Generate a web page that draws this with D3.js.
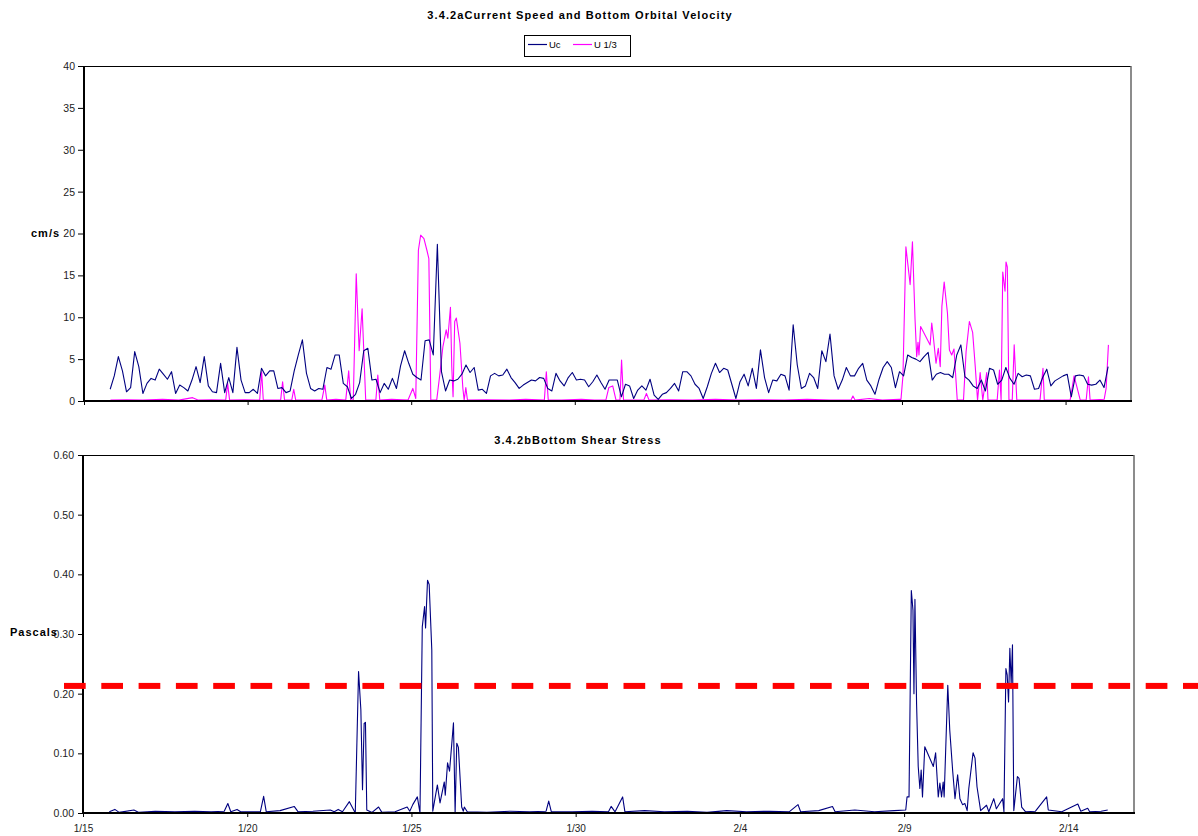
<!DOCTYPE html>
<html><head><meta charset="utf-8">
<script src="https://cdn.jsdelivr.net/npm/d3@7/dist/d3.min.js"></script>
<style>
body{margin:0;background:#fff}
svg{display:block}
text{font-family:Arial,"Liberation Sans",sans-serif}
</style>
</head><body>
<svg id="chart" width="1198" height="836"></svg>
<script>
// ---------------- DATA ----------------
const startDate = [2003, 0, 15];   // 1/15
const endDate = [2003, 1, 16];     // 2/16
const xTickLabels = ["1/15", "1/20", "1/25", "1/30", "2/4", "2/9", "2/14"];
const topYTicks = [0, 5, 10, 15, 20, 25, 30, 35, 40];
const bottomYTicks = [0, 0.1, 0.2, 0.3, 0.4, 0.5, 0.6];
const seriesNames = ["Uc", "U 1/3"];
const topTitle = "3.4.2aCurrent Speed and Bottom Orbital Velocity";
const bottomTitle = "3.4.2bBottom Shear Stress";
const shearThreshold = 0.213;

// Uc: current speed (cm/s), 3-hourly from day 0.8 after 1/15
const ucStartDay = 0.8;
const ucStepDays = 0.125;
const ucValues = [
  1.4, 3.0, 5.3, 3.6, 1.1, 1.6, 5.9, 4.1, 0.9, 2.1,
  2.7, 2.5, 3.8, 3.2, 2.6, 3.5, 0.9, 1.9, 1.6, 1.2,
  2.5, 4.1, 2.2, 5.3, 1.8, 1.1, 1.0, 4.5, 1.0, 2.8,
  1.0, 6.4, 2.5, 1.0, 1.0, 1.4, 0.9, 3.9, 3.0, 3.6,
  3.6, 1.5, 1.6, 1.0, 1.2, 3.6, 5.5, 7.3, 3.3, 1.5,
  1.2, 1.5, 1.4, 4.0, 3.8, 5.5, 5.5, 2.1, 1.7, 0.3,
  0.8, 2.2, 6.0, 6.3, 2.5, 2.6, 1.0, 2.1, 1.4, 2.7,
  1.5, 4.2, 6.0, 4.5, 3.2, 2.8, 2.5, 7.2, 7.3, 5.5,
  18.7, 3.5, 1.2, 2.5, 2.4, 2.6, 3.2, 4.3, 3.4, 4.0,
  1.3, 1.4, 0.9, 3.0, 3.3, 3.0, 3.1, 3.8, 2.8, 2.2,
  1.5, 1.9, 2.2, 2.5, 2.4, 2.8, 2.7, 1.5, 1.2, 3.3,
  2.4, 1.8, 2.8, 3.4, 2.5, 2.6, 2.5, 1.7, 2.3, 3.1,
  2.2, 1.4, 2.5, 2.5, 2.5, 0.5, 2.0, 1.8, 0.3, 1.3,
  1.8, 1.3, 2.6, 0.7, 0.2, 0.8, 1.0, 1.5, 2.1, 1.2,
  3.5, 3.5, 3.0, 2.0, 1.5, 0.3, 1.7, 3.3, 4.5, 3.4,
  3.9, 3.7, 2.0, 0.3, 2.3, 3.2, 1.8, 3.9, 1.5, 6.1,
  2.8, 1.0, 2.5, 2.4, 3.2, 3.0, 1.3, 9.1, 4.3, 1.5,
  1.8, 3.3, 2.8, 1.5, 6.0, 4.7, 8.0, 3.0, 1.4, 2.5,
  4.0, 3.0, 3.0, 3.9, 4.5, 2.5, 1.8, 0.8, 2.6, 4.0,
  4.7, 4.0, 1.6, 3.5, 3.0, 5.5, 5.2, 5.0, 4.7, 5.3,
  5.8, 2.5, 3.2, 3.4, 3.2, 3.2, 2.8, 5.5, 6.7, 2.9,
  2.5, 1.8, 1.5, 2.5, 1.2, 3.9, 3.7, 2.0, 2.5, 4.0,
  2.7, 2.0, 3.3, 2.9, 3.1, 3.0, 1.4, 1.5, 2.8, 3.8,
  1.8, 2.4, 2.7, 3.0, 3.2, 0.5, 3.0, 3.1, 3.0, 2.0,
  1.9, 2.0, 2.5, 1.6, 4.1
];

// U 1/3: bottom orbital velocity (cm/s) as [day after 1/15, value]
const u13Points = [
  [0.81,0.1],[1.3,0.15],[1.8,0.1],[2.4,0.2],[2.9,0.1],[3.32,0.4],[3.5,0.1],[3.9,0.15],
  [4.33,0.1],[4.39,2.1],[4.45,0.1],[4.9,0.15],[5.37,0.1],[5.43,3.5],[5.48,0.1],[5.8,0.1],
  [6.01,0.1],[6.07,2.3],[6.13,0.1],[6.35,0.1],[6.41,1.4],[6.47,0.1],[6.9,0.1],[7.27,0.1],
  [7.36,1.9],[7.42,0.1],[7.7,0.2],[8.0,0.1],[8.09,3.6],[8.15,0.1],[8.23,0.1],[8.32,15.2],
  [8.41,6.0],[8.5,11.0],[8.61,0.1],[8.92,0.1],[8.98,3.1],[9.04,0.1],[9.4,0.2],[9.9,0.1],
  [10.05,1.5],[10.14,0.3],[10.22,18.0],[10.29,19.8],[10.39,19.4],[10.48,18.0],[10.54,17.0],
  [10.6,0.1],[10.78,0.1],[10.87,3.0],[10.97,6.5],[11.07,8.5],[11.12,7.5],[11.2,11.2],
  [11.24,4.1],[11.28,0.5],[11.33,9.5],[11.38,9.9],[11.49,6.9],[11.58,1.5],[11.62,0.1],
  [11.67,1.6],[11.72,0.1],[12.3,0.15],[13.0,0.1],[13.5,0.2],[14.07,0.1],[14.13,3.5],
  [14.19,0.1],[14.6,0.1],[15.2,0.2],[15.6,0.1],[15.95,0.1],[16.04,1.6],[16.16,1.8],
  [16.26,0.1],[16.38,0.1],[16.43,4.9],[16.49,0.1],[16.8,0.1],[17.11,0.1],[17.19,0.9],
  [17.27,0.1],[17.9,0.15],[18.6,0.1],[19.3,0.2],[20.0,0.1],[20.7,0.15],[21.4,0.1],
  [22.1,0.2],[22.8,0.1],[23.44,0.1],[23.5,0.6],[23.57,0.1],[24.0,0.3],[24.4,0.1],
  [24.91,0.2],[24.97,0.2],[25.03,3.0],[25.12,18.4],[25.25,13.9],[25.32,19.0],[25.4,9.7],
  [25.45,5.3],[25.49,7.0],[25.52,5.5],[25.57,8.9],[25.86,6.7],[25.91,9.3],[25.95,8.0],
  [26.04,4.5],[26.11,6.3],[26.17,4.1],[26.22,11.3],[26.29,14.2],[26.39,10.5],[26.45,6.1],
  [26.52,5.5],[26.59,6.2],[26.69,0.1],[26.88,0.1],[26.96,5.9],[27.06,9.5],[27.16,8.2],
  [27.24,4.1],[27.31,0.1],[27.39,3.4],[27.47,0.1],[27.59,3.4],[27.63,0.1],[27.91,0.1],
  [27.98,3.7],[28.03,0.1],[28.08,15.4],[28.15,13.1],[28.18,16.6],[28.22,16.0],[28.27,0.1],
  [28.37,0.1],[28.43,6.7],[28.51,0.1],[29.22,0.1],[29.31,3.9],[29.35,0.1],[30.14,0.1],
  [30.26,3.0],[30.45,0.1],[30.63,0.1],[30.7,2.9],[30.75,0.1],[31.18,0.2],[31.24,1.5],
  [31.31,6.7]
];

// Bottom shear stress (Pa) as [day after 1/15, value]
const shearPoints = [
  [0.8,0.002],[0.97,0.006],[1.1,0.001],[1.55,0.005],[1.7,0.001],[2.2,0.003],[2.8,0.002],
  [3.4,0.003],[3.9,0.002],[4.3,0.003],[4.41,0.016],[4.5,0.002],[4.69,0.006],[4.8,0.002],
  [5.4,0.002],[5.5,0.028],[5.58,0.002],[6.0,0.004],[6.43,0.011],[6.55,0.002],[7.0,0.003],
  [7.53,0.005],[7.65,0.002],[7.77,0.006],[7.9,0.002],[8.11,0.019],[8.29,0.0],[8.39,0.237],
  [8.46,0.173],[8.51,0.039],[8.56,0.150],[8.6,0.152],[8.64,0.005],[8.8,0.001],[9.0,0.01],
  [9.1,0.001],[9.5,0.002],[9.87,0.01],[9.95,0.003],[10.04,0.014],[10.18,0.027],[10.26,0.0],
  [10.33,0.312],[10.4,0.346],[10.43,0.31],[10.49,0.39],[10.54,0.383],[10.62,0.273],
  [10.65,0.003],[10.79,0.047],[10.87,0.017],[11.0,0.052],[11.03,0.03],[11.1,0.084],
  [11.16,0.07],[11.28,0.151],[11.33,0.0],[11.38,0.117],[11.43,0.11],[11.53,0.01],
  [11.58,0.003],[11.61,0.01],[11.7,0.002],[12.3,0.001],[13.0,0.003],[13.6,0.002],
  [14.1,0.003],[14.18,0.02],[14.26,0.002],[14.9,0.002],[15.5,0.003],[16.0,0.002],
  [16.08,0.011],[16.2,0.002],[16.43,0.027],[16.5,0.002],[17.1,0.004],[17.7,0.002],
  [18.4,0.003],[19.0,0.001],[19.6,0.004],[20.2,0.002],[20.9,0.003],[21.5,0.002],
  [21.77,0.014],[21.85,0.002],[22.4,0.004],[22.82,0.011],[22.9,0.002],[23.5,0.005],
  [24.1,0.002],[24.7,0.004],[25.05,0.005],[25.09,0.027],[25.15,0.027],[25.22,0.373],
  [25.27,0.34],[25.3,0.2],[25.33,0.358],[25.38,0.183],[25.43,0.078],[25.48,0.041],
  [25.52,0.072],[25.56,0.027],[25.63,0.111],[25.89,0.078],[25.96,0.101],[26.04,0.027],
  [26.09,0.05],[26.14,0.027],[26.19,0.052],[26.22,0.027],[26.33,0.214],[26.39,0.139],
  [26.48,0.07],[26.55,0.024],[26.63,0.064],[26.7,0.024],[26.78,0.014],[26.85,0.016],
  [26.92,0.004],[26.97,0.041],[27.1,0.101],[27.16,0.092],[27.22,0.044],[27.33,0.004],
  [27.51,0.013],[27.58,0.002],[27.73,0.024],[27.81,0.007],[28.0,0.024],[28.04,0.002],
  [28.1,0.242],[28.14,0.231],[28.18,0.186],[28.22,0.276],[28.26,0.217],[28.3,0.282],
  [28.34,0.004],[28.45,0.061],[28.5,0.058],[28.58,0.01],[28.7,0.002],[29.0,0.003],
  [29.34,0.027],[29.39,0.005],[29.8,0.002],[30.29,0.015],[30.38,0.003],[30.59,0.008],
  [30.65,0.002],[31.0,0.003],[31.2,0.005]
];

// ---------------- DRAWING ----------------
const DAY = 864e5;
const t0 = Date.UTC(...startDate);
const t1 = Date.UTC(...endDate);
const toDate = d => new Date(t0 + d * DAY);
const tickDates = xTickLabels.map(l => { const [m, d] = l.split("/").map(Number); return new Date(Date.UTC(startDate[0], m - 1, d)); });
const labelFor = new Map(tickDates.map((d, i) => [+d, xTickLabels[i]]));

const ucData = ucValues.map((v, i) => [toDate(ucStartDay + i * ucStepDays), v]);
const u13Data = u13Points.map(([d, v]) => [toDate(d), v]);
const shearData = shearPoints.map(([d, v]) => [toDate(d), v]);

const svg = d3.select("#chart");
const colors = { uc: "#000080", u13: "#ff00ff" };

// panel geometry
const topP = { l: 84, r: 1131, t: 66, b: 401 };
const botP = { l: 83, r: 1134, t: 455, b: 813 };

const xTop = d3.scaleUtc().domain([new Date(t0), new Date(t1)]).range([topP.l, topP.r]);
const yTop = d3.scaleLinear().domain([0, 40]).range([topP.b, topP.t]);
const xBot = d3.scaleUtc().domain([new Date(t0), new Date(t1)]).range([botP.l, botP.r]);
const yBot = d3.scaleLinear().domain([0, 0.6]).range([botP.b, botP.t]);

function frame(p) {
  const g = svg.append("g");
  g.append("line").attr("x1", p.l).attr("x2", p.r).attr("y1", p.t + 0.5).attr("y2", p.t + 0.5).attr("stroke", "#000").attr("stroke-width", 1);
  g.append("line").attr("x1", p.r).attr("x2", p.r).attr("y1", p.t).attr("y2", p.b).attr("stroke", "#666").attr("stroke-width", 1.5);
}
frame(topP);
frame(botP);

function styleAxis(g) {
  g.select(".domain").remove();
  g.selectAll(".tick line").attr("stroke", "#000").attr("stroke-width", 1);
  g.selectAll(".tick text").attr("fill", "#222").style("font-size", "10.5px").style("font-family", "Arial, 'Liberation Sans', sans-serif");
}

// top axes
svg.append("g").attr("transform", `translate(${topP.l},0)`)
  .call(d3.axisLeft(yTop).tickValues(topYTicks).tickSize(6).tickPadding(3).tickFormat(d3.format("d")))
  .call(styleAxis);
svg.append("g").attr("transform", `translate(0,${topP.b})`)
  .call(d3.axisBottom(xTop).tickValues(tickDates).tickSize(4).tickFormat(""))
  .call(styleAxis);

// bottom axes
svg.append("g").attr("transform", `translate(${botP.l},0)`)
  .call(d3.axisLeft(yBot).tickValues(bottomYTicks).tickSize(5).tickPadding(4).tickFormat(d3.format(".2f")))
  .call(styleAxis);
svg.append("g").attr("transform", `translate(0,${botP.b})`)
  .call(d3.axisBottom(xBot).tickValues(tickDates).tickSize(4).tickPadding(8).tickFormat(d => labelFor.get(+d)))
  .call(styleAxis)
  .call(g => g.selectAll(".tick text").style("font-size", "10px"));

// series lines
const lineTop = d3.line().x(d => xTop(d[0])).y(d => yTop(d[1]));
const lineBot = d3.line().x(d => xBot(d[0])).y(d => yBot(d[1]));

svg.append("path").datum(u13Data).attr("d", lineTop).attr("fill", "none").attr("stroke", colors.u13).attr("stroke-width", 1.1).attr("stroke-linejoin", "round");
svg.append("path").datum(ucData).attr("d", lineTop).attr("fill", "none").attr("stroke", colors.uc).attr("stroke-width", 1.1).attr("stroke-linejoin", "round");
svg.append("path").datum(shearData).attr("d", lineBot).attr("fill", "none").attr("stroke", colors.uc).attr("stroke-width", 1.1).attr("stroke-linejoin", "round");

// axis lines (left & bottom, thicker)
function axisLines(p) {
  svg.append("line").attr("x1", p.l).attr("x2", p.l).attr("y1", p.t).attr("y2", p.b + 1).attr("stroke", "#000").attr("stroke-width", 2);
  svg.append("line").attr("x1", p.l - 1).attr("x2", p.r + 1).attr("y1", p.b).attr("y2", p.b).attr("stroke", "#000").attr("stroke-width", 2);
}
axisLines(topP);
axisLines(botP);

// threshold line (dashed, drawn as dash segments starting left of the axis)
const dashStart = 64, dashLen = 21.7, dashPeriod = 37.3, dashEnd = 1198;
const dashXs = d3.range(dashStart, dashEnd, dashPeriod);
svg.append("g").selectAll("rect").data(dashXs).join("rect")
  .attr("x", d => d)
  .attr("y", yBot(shearThreshold) - 3)
  .attr("width", d => Math.min(dashLen, dashEnd - d))
  .attr("height", 6)
  .attr("fill", "#ff0000");

// titles
svg.append("text").attr("x", 580).attr("y", 19).attr("text-anchor", "middle")
  .style("font-size", "11px").style("font-weight", "bold").style("letter-spacing", "1.1px").text(topTitle);
svg.append("text").attr("x", 578).attr("y", 444).attr("text-anchor", "middle")
  .style("font-size", "11px").style("font-weight", "bold").style("letter-spacing", "1.1px").text(bottomTitle);

// axis titles
svg.append("text").attr("x", 31).attr("y", 237)
  .style("font-size", "11px").style("font-weight", "bold").style("letter-spacing", "1px").text("cm/s");
svg.append("text").attr("x", 10).attr("y", 636)
  .style("font-size", "11px").style("font-weight", "bold").style("letter-spacing", "1px").text("Pascals");

// legend
const lg = svg.append("g");
lg.append("rect").attr("x", 524.5).attr("y", 35.5).attr("width", 106).attr("height", 21)
  .attr("fill", "#fff").attr("stroke", "#000").attr("stroke-width", 1);
const legendItems = [
  { name: seriesNames[0], color: colors.uc, x: 528 },
  { name: seriesNames[1], color: colors.u13, x: 573 }
];
legendItems.forEach(it => {
  lg.append("line").attr("x1", it.x).attr("x2", it.x + 19).attr("y1", 44.5).attr("y2", 44.5).attr("stroke", it.color).attr("stroke-width", 1.2);
  lg.append("text").attr("x", it.x + 21).attr("y", 48).style("font-size", "9.5px").attr("fill", "#000").text(it.name);
});
</script>
</body></html>
